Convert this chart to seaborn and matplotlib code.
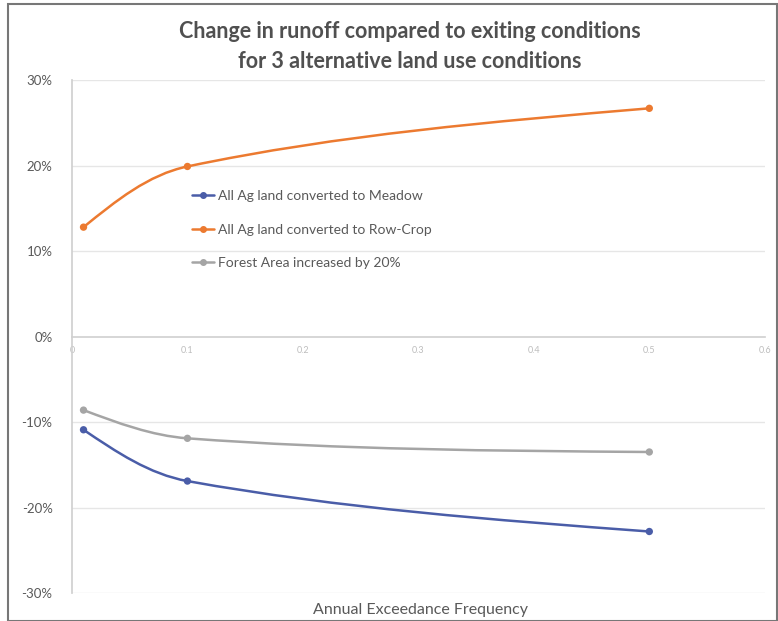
import numpy as np
import pandas as pd
import matplotlib
matplotlib.use("Agg")
import matplotlib.pyplot as plt
import seaborn as sns
from matplotlib.path import Path
from matplotlib.patches import PathPatch, Rectangle
from matplotlib.lines import Line2D
from matplotlib.ticker import FuncFormatter

# ---- data ----
aef = [0.01, 0.1, 0.5]
meadow = [-10.9, -16.9, -22.8]
rowcrop = [12.8, 19.9, 26.7]
forest = [-8.6, -11.9, -13.5]
series_names = ["All Ag land converted to Meadow",
                "All Ag land converted to Row-Crop",
                "Forest Area increased by 20%"]
colors = ["#4a5da8", "#ec7a30", "#a5a5a5"]
x_ticks = [0, 0.1, 0.2, 0.3, 0.4, 0.5, 0.6]
y_ticks = [-30, -20, -10, 0, 10, 20, 30]
title = "Change in runoff compared to exiting conditions\nfor 3 alternative land use conditions"
xlabel = "Annual Exceedance Frequency"

df = pd.DataFrame({
    "AEF": aef * 3,
    "Change": meadow + rowcrop + forest,
    "Scenario": [series_names[0]] * 3 + [series_names[1]] * 3 + [series_names[2]] * 3,
})

sns.set_theme(style="white")
plt.rcParams['font.family'] = ['Lato', 'DejaVu Sans']

fig = plt.figure(figsize=(7.78, 6.21), dpi=100)
ax = fig.add_axes([0.0925, 0.045, 0.8905, 0.826])

ax.set_xlim(0, 0.6)
ax.set_ylim(-30, 30)

# gridlines
for yv in y_ticks:
    if yv != 0:
        ax.axhline(yv, color="#e6e6e6", lw=1.0, zorder=0)

def smooth_path(xs, ys, sx=1155.0, sy=8.55):
    # Bezier smoothing computed in (approximate) screen-scaled space
    P = [np.array([x * sx, y * sy]) for x, y in zip(xs, ys)]
    n = len(P)
    tang = []
    for i in range(n):
        if i == 0 or i == n - 1:
            tang.append(None)
        else:
            d = P[i + 1] - P[i - 1]
            tang.append(d / np.linalg.norm(d))
    verts = [P[0]]
    codes = [Path.MOVETO]
    for i in range(n - 1):
        p1, p2 = P[i], P[i + 1]
        L = np.linalg.norm(p2 - p1) / 3.0
        c2 = p2 - tang[i + 1] * L if tang[i + 1] is not None else None
        c1 = p1 + tang[i] * L if tang[i] is not None else None
        if c1 is None:
            c1 = p1 + (c2 - p1) * 0.5
        if c2 is None:
            c2 = p2 + (c1 - p2) * 0.5
        verts += [c1, c2, p2]
        codes += [Path.CURVE4] * 3
    verts = [(v[0] / sx, v[1] / sy) for v in verts]
    return Path(verts, codes)

for name, col in zip(series_names, colors):
    sub = df[df["Scenario"] == name]
    patch = PathPatch(smooth_path(sub["AEF"].tolist(), sub["Change"].tolist()),
                      facecolor="none", edgecolor=col, lw=1.8, zorder=2)
    ax.add_patch(patch)

sns.scatterplot(data=df, x="AEF", y="Change", hue="Scenario",
                palette=dict(zip(series_names, colors)), s=28,
                edgecolor="none", legend=False, ax=ax, zorder=3)

# axes styling
for s in ["top", "right"]:
    ax.spines[s].set_visible(False)
ax.spines["left"].set_color("#d0d0d0")
ax.spines["bottom"].set_position(("data", 0))
ax.spines["bottom"].set_color("#cfcfcf")
ax.spines["bottom"].set_linewidth(1.2)

ax.set_xticks(x_ticks)
ax.set_xticklabels([f"{v:g}" for v in x_ticks])
ax.tick_params(axis="x", length=4, color="#d0d0d0", labelsize=6.5, labelcolor="#bdbdbd", pad=3)
ax.set_yticks(y_ticks)
ax.yaxis.set_major_formatter(FuncFormatter(lambda v, p: f"{v:.0f}%"))
ax.tick_params(axis="y", length=0, labelsize=9.5, labelcolor="#595959", pad=14)

ax.set_xlabel("")
ax.set_ylabel("")
fig.text(0.54, 0.018, xlabel, ha="center", va="center", fontsize=11.5, color="#595959")

fig.text(0.527, 0.925, title, ha="center", va="center", fontsize=15.5,
         fontweight="bold", color="#505050", linespacing=1.55)

handles = [Line2D([0], [0], color=c, lw=1.8, marker="o", markersize=4) for c in colors]
leg = ax.legend(handles, series_names, loc="upper left", bbox_to_anchor=(0.155, 0.81),
                frameon=False, fontsize=10, handlelength=1.6, handletextpad=0.3,
                labelspacing=1.55, labelcolor="#595959")

# chart border
fig.patches.append(Rectangle((8 / 778, 0), 1 - 9 / 778, 1 - 4 / 621, transform=fig.transFigure,
                             fill=False, edgecolor="#777777", lw=1.5))

fig.savefig("out.png", dpi=100)
